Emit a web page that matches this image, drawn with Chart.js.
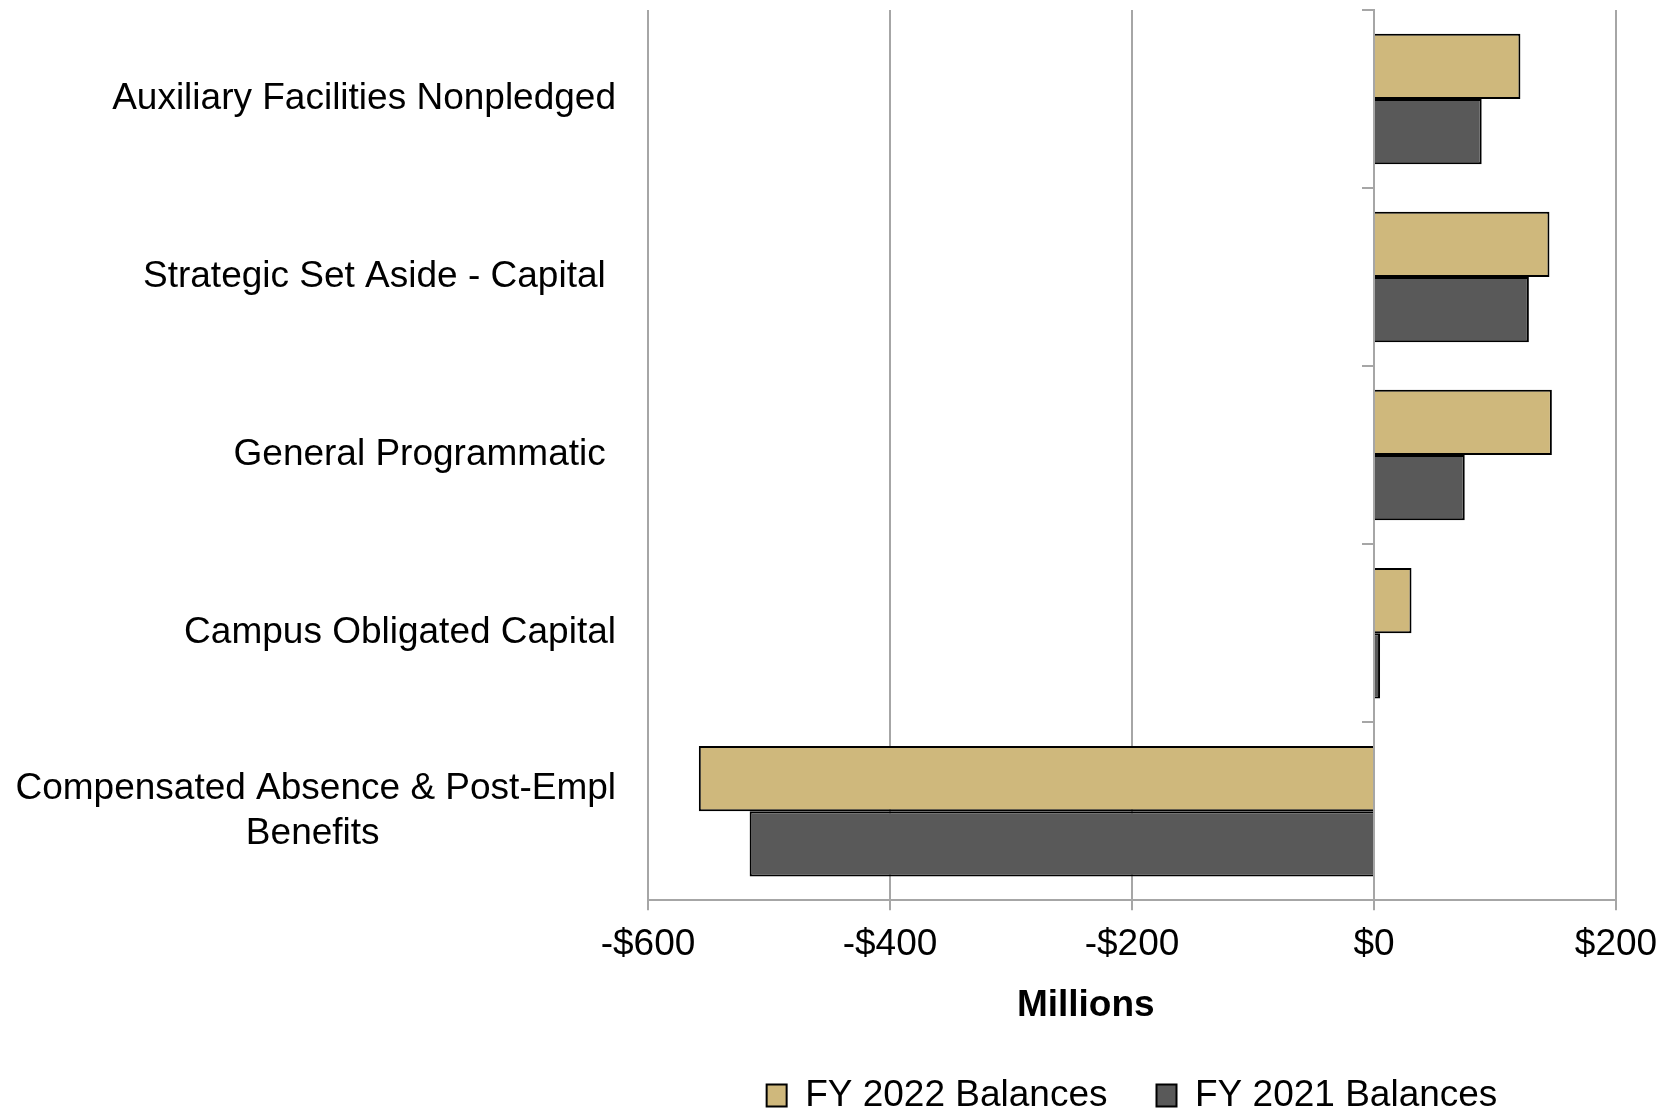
<!DOCTYPE html>
<html>
<head>
<meta charset="utf-8">
<script src="https://cdn.jsdelivr.net/npm/chart.js@4.4.0/dist/chart.umd.min.js"></script>
<style>
  html, body { margin: 0; padding: 0; background: #fff; }
  #wrap { width: 1666px; height: 1110px; }
</style>
</head>
<body>
<div id="wrap"><canvas id="chart"></canvas></div>
<script>
// fund categories, top to bottom (trailing spaces keep the original label alignment)
const categories = [
  'Auxiliary Facilities Nonpledged',
  'Strategic Set Aside - Capital ',
  'General Programmatic ',
  'Campus Obligated Capital',
  ['Compensated Absence & Post-Empl', 'Benefits                       ']
];
// balances in millions of dollars
const fy2022 = [121, 145, 147, 31, -558];
const fy2021 = [89, 128, 75, 5, -516];
const xMin = -600;
const xMax = 200;
const xStep = 200;

const gridGray = '#a6a6a6';
Chart.defaults.font.family = "'Liberation Sans', Arial, sans-serif";
Chart.defaults.color = '#000';

const money = v => (v < 0 ? '-$' : '$') + Math.abs(v);

new Chart(document.getElementById('chart'), {
  type: 'bar',
  data: {
    labels: categories,
    datasets: [
      {
        label: 'FY 2022 Balances',
        data: fy2022,
        backgroundColor: '#cfb87c',
        borderColor: '#000',
        borderWidth: 2
      },
      {
        label: 'FY 2021 Balances',
        data: fy2021,
        backgroundColor: '#595959',
        borderColor: '#000',
        borderWidth: 2
      }
    ]
  },
  options: {
    indexAxis: 'y',
    responsive: true,
    maintainAspectRatio: false,
    animation: false,
    categoryPercentage: 0.733,
    barPercentage: 1,
    layout: { padding: { top: 10, left: 12, right: 6, bottom: -14 } },
    scales: {
      x: {
        min: xMin,
        max: xMax,
        ticks: { stepSize: xStep, callback: money, font: { size: 37 }, padding: 12 },
        grid: { color: gridGray, lineWidth: 2, tickLength: 10 },
        border: { color: gridGray, width: 2 },
        title: {
          display: true,
          text: 'Millions         ',
          font: { size: 37, weight: 'bold' },
          padding: { top: 5, bottom: 0 }
        },
        // the last tick label may hang over the right edge a little
        afterFit: s => {
          s.paddingRight = 50;
        }
      },
      y: {
        ticks: { font: { size: 37 }, padding: 32 },
        grid: { display: false, drawTicks: false },
        border: { display: false },
        // keep the long category names from being squeezed, and the bands from being padded
        afterFit: s => {
          s.width = 636;
          s.paddingTop = 0;
          s.paddingBottom = 0;
        }
      },
      zero: {
        type: 'category',
        axis: 'y',
        position: { x: 0 },
        offset: true,
        z: 1,
        ticks: { display: false },
        grid: { offset: true, drawOnChartArea: false, tickLength: 11, color: gridGray, lineWidth: 2 },
        border: { color: gridGray, width: 2 }
      }
    },
    plugins: {
      legend: {
        position: 'bottom',
        fullSize: false,
        labels: { font: { size: 37 }, boxWidth: 20, boxHeight: 22, padding: 49 }
      },
      tooltip: { enabled: false }
    }
  }
});
</script>
</body>
</html>
